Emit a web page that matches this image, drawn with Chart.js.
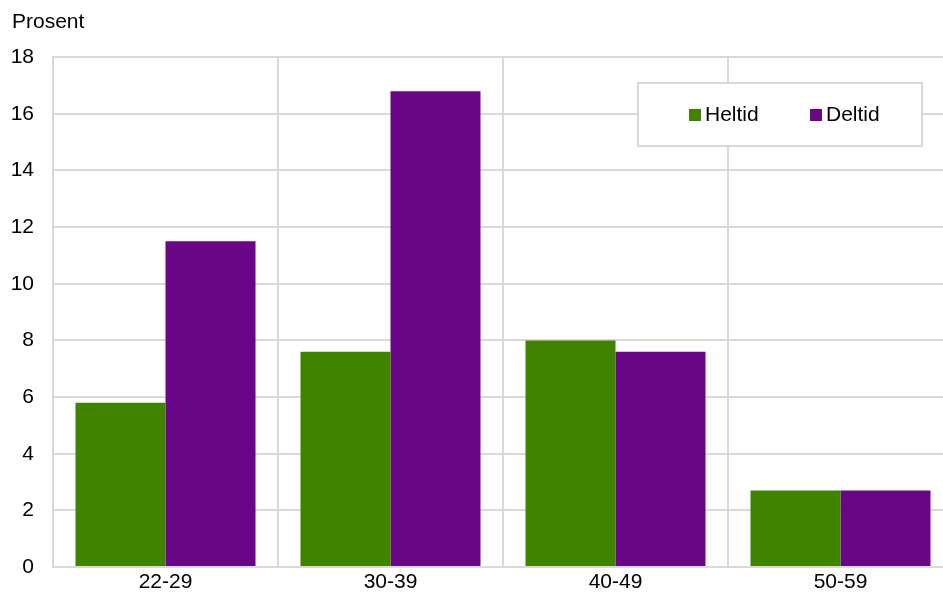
<!DOCTYPE html>
<html lang="no">
<head>
<meta charset="UTF-8">
<title>Prosent</title>
<script src="https://cdn.jsdelivr.net/npm/chart.js"></script>
<style>
    body { margin: 0; padding: 0; background: #ffffff; overflow: hidden; }
    #wrap { width: 960px; height: 592px; position: relative; }
</style>
</head>
<body>
<div id="wrap"><canvas id="grafica"></canvas></div>
<script>
const kategorier = ['22-29', '30-39', '40-49', '50-59'];
const heltid = [5.8, 7.6, 8.0, 2.7];
const deltid = [11.5, 16.8, 7.6, 2.7];
const yTicks = [0, 2, 4, 6, 8, 10, 12, 14, 16, 18];

const gridFarge = '#d9d9d9';
const fontNavn = '"Liberation Sans", Arial, sans-serif';

// legenden tegnes i en ramme inne i plottet
const boksLegende = {
    id: 'boksLegende',
    afterDraw(chart) {
        const ctx = chart.ctx;
        ctx.save();
        ctx.fillStyle = '#ffffff';
        ctx.fillRect(638, 83, 284, 63);
        ctx.strokeStyle = gridFarge;
        ctx.lineWidth = 2;
        ctx.strokeRect(638, 83, 284, 63);
        const pos = [689, 810];
        ctx.font = '21px ' + fontNavn;
        ctx.textBaseline = 'middle';
        chart.data.datasets.forEach((ds, i) => {
            ctx.fillStyle = ds.backgroundColor;
            ctx.fillRect(pos[i], 109, 12, 12);
            ctx.fillStyle = '#000000';
            ctx.fillText(ds.label, pos[i] + 16, 115);
        });
        ctx.restore();
    }
};

new Chart(document.getElementById('grafica'), {
    type: 'bar',
    data: {
        labels: kategorier,
        datasets: [
            { label: 'Heltid', data: heltid, backgroundColor: '#3f8300', borderWidth: 0 },
            { label: 'Deltid', data: deltid, backgroundColor: '#690688', borderWidth: 0 }
        ]
    },
    options: {
        responsive: true,
        maintainAspectRatio: false,
        animation: false,
        layout: { padding: { left: 12, right: 7, top: 0, bottom: 0 } },
        datasets: { bar: { categoryPercentage: 0.8, barPercentage: 1.0 } },
        plugins: {
            legend: { display: false },
            tooltip: { enabled: false },
            title: {
                display: true,
                text: 'Prosent',
                align: 'start',
                color: '#000000',
                font: { family: fontNavn, size: 21, weight: 'normal' },
                padding: { top: 10, bottom: 22 }
            }
        },
        scales: {
            x: {
                afterFit(axis) { axis.height = 25; },
                grid: { color: gridFarge, lineWidth: 2, drawTicks: false, offset: true },
                border: { color: gridFarge, width: 2 },
                ticks: { color: '#000000', font: { family: fontNavn, size: 21 }, padding: 3 }
            },
            y: {
                min: 0,
                max: 18,
                afterBuildTicks(axis) { axis.ticks = yTicks.map(v => ({ value: v })); },
                afterFit(axis) {
                    axis.width = 41;
                    // tick-padding skal ikke gi ekstra luft under nullpunktet
                    axis.paddingTop = 12;
                    axis.paddingBottom = 12;
                },
                grid: { color: gridFarge, lineWidth: 2, drawTicks: false },
                border: { color: gridFarge, width: 2 },
                ticks: { color: '#000000', font: { family: fontNavn, size: 21 }, padding: 19 }
            }
        }
    },
    plugins: [boksLegende]
});
</script>
</body>
</html>
